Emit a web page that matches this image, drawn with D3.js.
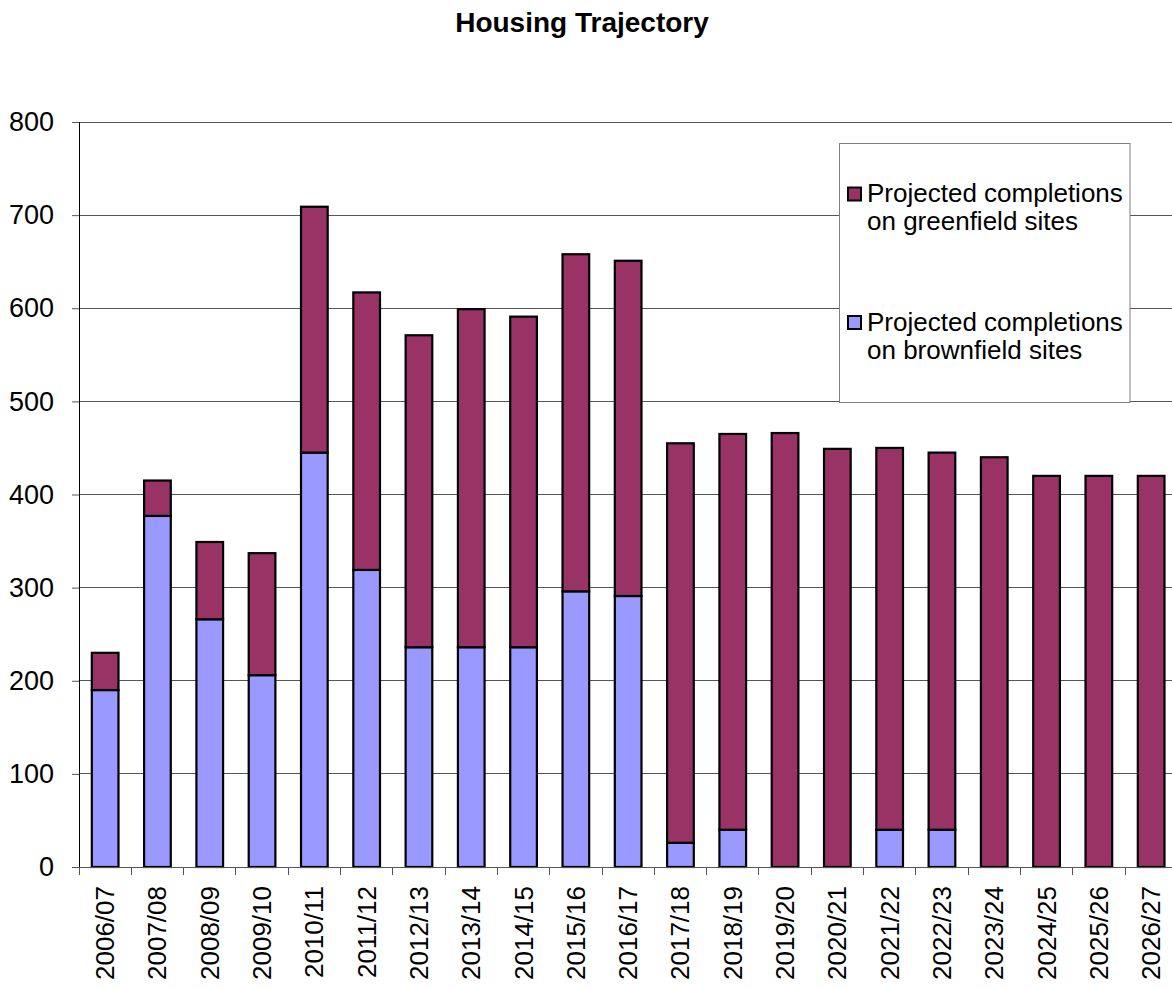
<!DOCTYPE html>
<html>
<head>
<meta charset="utf-8">
<script src="https://cdn.jsdelivr.net/npm/d3@7"></script>
<style>
  html, body { margin: 0; padding: 0; background: #fff; }
  svg { display: block; font-family: Arial, "Liberation Sans", sans-serif; }
</style>
</head>
<body>
<svg id="chart" width="1172" height="989"></svg>
<script>
const categories = ["2006/07","2007/08","2008/09","2009/10","2010/11","2011/12","2012/13","2013/14","2014/15","2015/16","2016/17","2017/18","2018/19","2019/20","2020/21","2021/22","2022/23","2023/24","2024/25","2025/26","2026/27"];
const brownfield = [190,377,266,206,445,319,236,236,236,296,291,26,40,0,0,40,40,0,0,0,0];
const greenfield = [40,38,83,131,264,298,335,363,355,362,360,429,425,466,449,410,405,440,420,420,420];
const yTicks = [0,100,200,300,400,500,600,700,800];
const legendLines = {
  green: ["Projected completions", "on greenfield sites"],
  brown: ["Projected completions", "on brownfield sites"]
};
const colors = { brown: "#9999FF", green: "#993366" };

const svg = d3.select("#chart");
const plotLeft = 79, plotRight = 1177.3, plotTop = 122, plotBottom = 867;

const x = d3.scaleBand().domain(categories).range([plotLeft, plotRight]).paddingInner(0.49).paddingOuter(0.245);
const y = d3.scaleLinear().domain([0, 800]).range([plotBottom, plotTop]);
const step = x.step();
const bw = x.bandwidth();

// Title
svg.append("text").attr("x", 582).attr("y", 32).attr("text-anchor", "middle")
  .attr("font-size", 28).attr("font-weight", "bold").attr("fill", "#000").text("Housing Trajectory");

// Gridlines
svg.append("g").selectAll("line").data(yTicks.filter(d => d > 0)).join("line")
  .attr("x1", plotLeft).attr("x2", 1172).attr("y1", d => y(d)).attr("y2", d => y(d))
  .attr("stroke", "#555").attr("stroke-width", 1).attr("shape-rendering", "crispEdges");

// Y axis
const yAxis = d3.axisLeft(y).tickValues(yTicks).tickSize(7).tickPadding(18);
const gy = svg.append("g").attr("transform", `translate(${plotLeft},0)`).call(yAxis);
gy.select(".domain").attr("stroke", "#000");
gy.selectAll(".tick line").attr("stroke", "#555");
gy.selectAll(".tick text").attr("font-size", 27).attr("font-family", "Arial, 'Liberation Sans', sans-serif").attr("fill", "#000");

// Stacked data
const rows = categories.map((c, i) => ({ cat: c, brown: brownfield[i], green: greenfield[i] }));
const stack = d3.stack().keys(["brown", "green"])(rows);

svg.append("g").selectAll("g").data(stack).join("g")
  .attr("fill", d => colors[d.key])
  .selectAll("rect").data(d => d.filter(p => p[1] - p[0] > 0)).join("rect")
  .attr("x", d => x(d.data.cat))
  .attr("width", bw)
  .attr("y", d => y(d[1]))
  .attr("height", d => y(d[0]) - y(d[1]))
  .attr("stroke", "#000").attr("stroke-width", 2.2);

// X axis baseline and ticks at category boundaries
svg.append("line").attr("x1", plotLeft).attr("x2", 1172).attr("y1", plotBottom).attr("y2", plotBottom)
  .attr("stroke", "#555").attr("stroke-width", 1).attr("shape-rendering", "crispEdges");
const boundaries = categories.map(c => x(c) - (step - bw) / 2).concat([x(categories[categories.length - 1]) + bw + (step - bw) / 2]);
svg.append("g").selectAll("line").data(boundaries).join("line")
  .attr("x1", d => d).attr("x2", d => d).attr("y1", plotBottom).attr("y2", plotBottom + 8)
  .attr("stroke", "#555").attr("shape-rendering", "crispEdges");

// X labels rotated
svg.append("g").selectAll("text").data(categories).join("text")
  .attr("transform", d => `translate(${x(d) + bw / 2 + 9},${plotBottom + 19}) rotate(-90)`)
  .attr("text-anchor", "end").attr("font-size", 26).attr("fill", "#000").text(d => d);

// Y axis line on top
svg.append("line").attr("x1", plotLeft).attr("x2", plotLeft).attr("y1", plotTop).attr("y2", plotBottom)
  .attr("stroke", "#000").attr("stroke-width", 1).attr("shape-rendering", "crispEdges");

// Legend
const lg = svg.append("g");
lg.append("rect").attr("x", 839.5).attr("y", 143.5).attr("width", 290.5).attr("height", 259)
  .attr("fill", "#fff").attr("stroke", "#808080").attr("stroke-width", 1);
const items = [
  { key: "green", sy: 187.5, ty: 201.5 },
  { key: "brown", sy: 316, ty: 330.5 }
];
items.forEach(it => {
  lg.append("rect").attr("x", 848).attr("y", it.sy).attr("width", 13).attr("height", 13)
    .attr("fill", colors[it.key]).attr("stroke", "#000").attr("stroke-width", 2);
  legendLines[it.key].forEach((t, j) => {
    lg.append("text").attr("x", 867).attr("y", it.ty + j * 28.5).attr("font-size", 26)
      .attr("fill", "#000").text(t);
  });
});
</script>
</body>
</html>
